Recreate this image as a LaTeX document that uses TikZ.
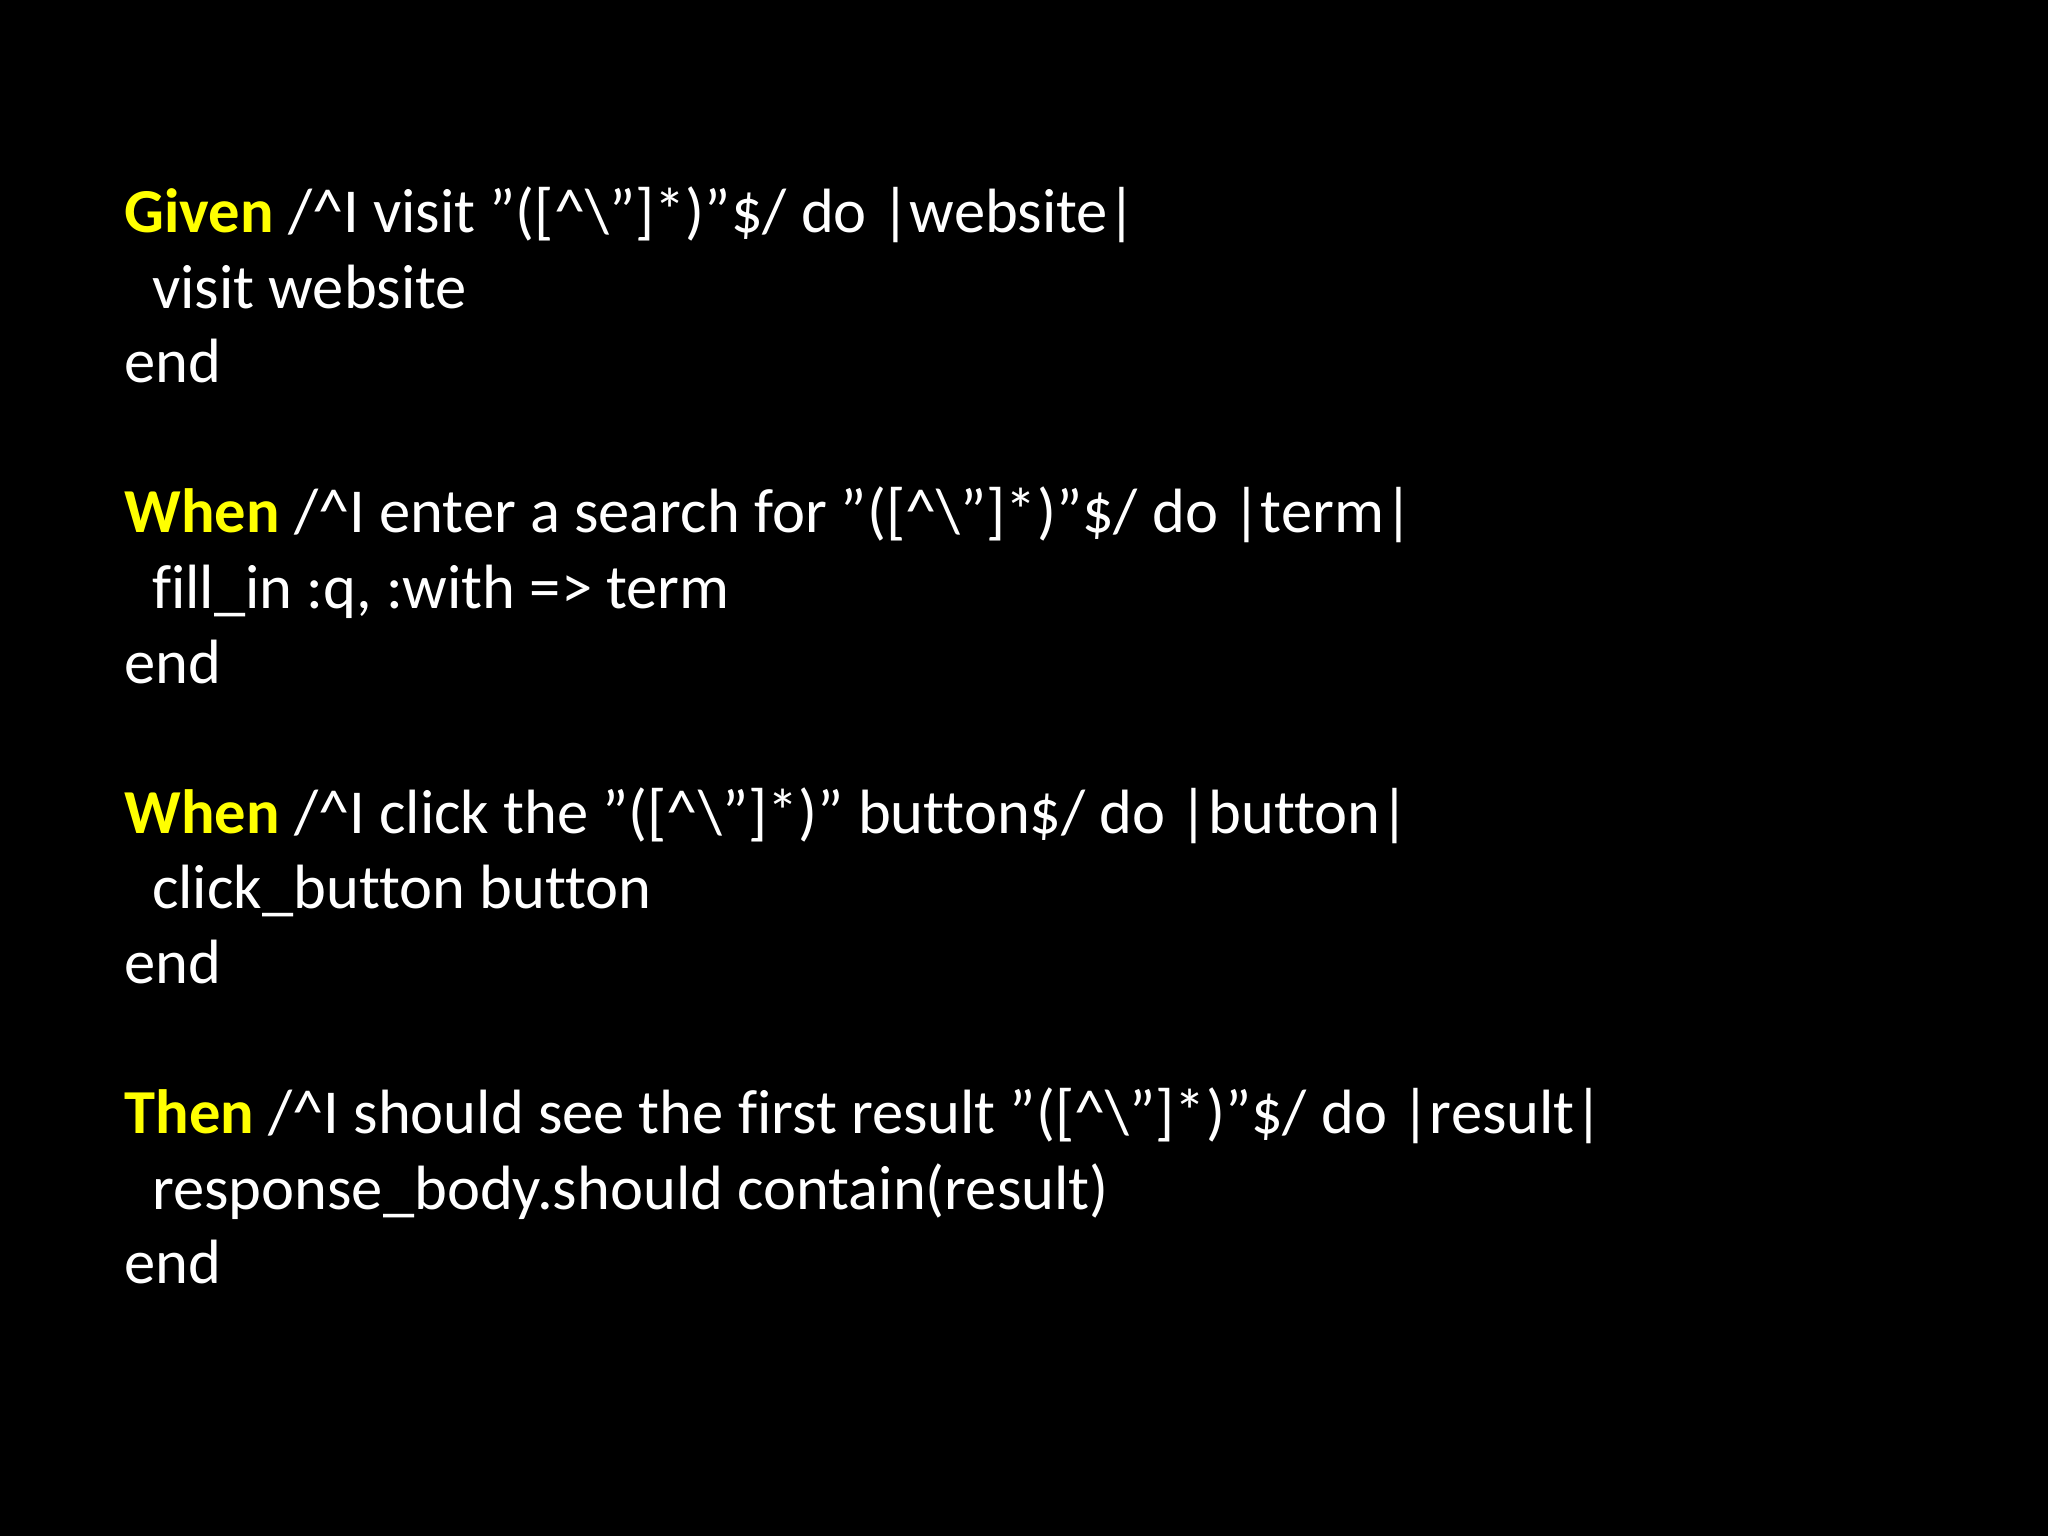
\documentclass[tikz,border=0pt]{standalone}
\usepackage{fontspec}
\setmainfont[Ligatures={NoCommon,NoRequired}]{Carlito}
\definecolor{kw}{HTML}{FFFF00}
\begin{document}
\begin{tikzpicture}[x=1cm,y=1cm,
  ln/.style={anchor=base west,inner sep=0pt,text=white,font=\fontsize{17.8pt}{21pt}\selectfont}]
\fill[black] (0,0) rectangle (20.48,15.36);
\useasboundingbox (0,0) rectangle (20.48,15.36);
\def\q{\symbol{34}}
\def\re{\q([\textasciicircum\textbackslash\q]*)\q}
\node[ln] (l1) at (1.24,{15.36-2.325}) {\textcolor{kw}{\bfseries Given} /\textasciicircum I visit \re\$/ do |website|};
\node[ln] (l2) at (1.515,{15.36-3.082}) {visit website};
\node[ln] (l3) at (1.24,{15.36-3.827}) {end};
\node[ln] (l4) at (1.24,{15.36-5.329}) {\textcolor{kw}{\bfseries When} /\textasciicircum I enter a search for \re\$/ do |term|};
\node[ln] (l5) at (1.515,{15.36-6.086}) {fill\_in :q, :with => term};
\node[ln] (l6) at (1.24,{15.36-6.831}) {end};
\node[ln] (l7) at (1.24,{15.36-8.333}) {\textcolor{kw}{\bfseries When} /\textasciicircum I click the \re{} button\$/ do |button|};
\node[ln] (l8) at (1.515,{15.36-9.090}) {click\_button button};
\node[ln] (l9) at (1.24,{15.36-9.835}) {end};
\node[ln] (l10) at (1.24,{15.36-11.337}) {\textcolor{kw}{\bfseries Then} /\textasciicircum I should see the first result \re\$/ do |result|};
\node[ln] (l11) at (1.515,{15.36-12.094}) {response\_body.should contain(result)};
\node[ln] (l12) at (1.24,{15.36-12.839}) {end};
\end{tikzpicture}
\end{document}
